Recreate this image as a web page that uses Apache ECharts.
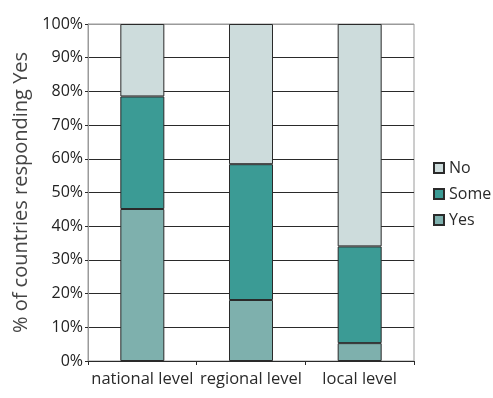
<!DOCTYPE html>
<html>
<head>
<meta charset="utf-8">
<script src="https://cdn.jsdelivr.net/npm/echarts@6/dist/echarts.min.js"></script>
<style>
  html, body { margin: 0; padding: 0; background: #fff; }
</style>
</head>
<body>
<div id="main" style="width: 493px; height: 398px;"></div>
<script>
  // data (percent of countries)
  const categories = ['national level', 'regional level', 'local level'];
  const yesValues = [45.1, 18.1, 5.3];
  const someValues = [33.4, 40.3, 28.7];
  const noValues = [21.5, 41.6, 66.0];
  const yTicks = [0, 10, 20, 30, 40, 50, 60, 70, 80, 90, 100];

  const FONT = 'Open Sans';
  let myChart = echarts.init(document.getElementById('main'));

  // grid lines dark, the top one (100%) grey like the frame
  const splitColors = yTicks.map((t, i) => i === yTicks.length - 1 ? '#9a9a9a' : '#2a2a2a');

  const barBase = {
    type: 'bar',
    stack: 'total',
    barWidth: 44,
    itemStyle: { borderColor: '#2a2a2a', borderWidth: 1 }
  };

  let option = {
    animation: false,
    textStyle: { fontFamily: FONT },
    grid: {
      left: 88, right: 79, top: 24, bottom: 37,
      show: true,
      borderColor: '#9a9a9a',
      borderWidth: 1
    },
    legend: {
      orient: 'vertical',
      left: 428,
      top: 155,
      itemWidth: 10,
      itemHeight: 10,
      itemGap: 10,
      icon: 'rect',
      data: ['No', 'Some', 'Yes'],
      textStyle: { fontFamily: FONT, fontSize: 16, color: '#2a2a2a' }
    },
    xAxis: {
      type: 'category',
      data: categories,
      axisLine: { lineStyle: { color: '#2a2a2a', width: 1 } },
      axisTick: { show: true, length: 4, interval: 0, lineStyle: { color: '#2a2a2a' } },
      axisLabel: { fontFamily: FONT, fontSize: 16.5, color: '#2a2a2a', margin: 10, interval: 0 }
    },
    yAxis: {
      type: 'value',
      min: 0,
      max: 100,
      interval: 10,
      name: '% of countries responding Yes',
      nameLocation: 'middle',
      nameRotate: 90,
      nameGap: 56,
      nameTextStyle: { fontFamily: FONT, fontSize: 20, color: '#444' },
      axisLine: { show: true, lineStyle: { color: '#9a9a9a' } },
      axisTick: { show: true, length: 3, lineStyle: { color: '#2a2a2a' } },
      axisLabel: { fontFamily: FONT, fontSize: 16, color: '#222', margin: 5, formatter: '{value}%' },
      splitLine: { show: true, lineStyle: { color: splitColors, width: 1 } }
    },
    series: [
      Object.assign({}, barBase, { name: 'Yes', data: yesValues, itemStyle: Object.assign({}, barBase.itemStyle, { color: '#7eb0ad' }) }),
      Object.assign({}, barBase, { name: 'Some', data: someValues, itemStyle: Object.assign({}, barBase.itemStyle, { color: '#3b9b95' }) }),
      Object.assign({}, barBase, { name: 'No', data: noValues, itemStyle: Object.assign({}, barBase.itemStyle, { color: '#cddcdc' }) })
    ]
  };
  myChart.setOption(option);
</script>
</body>
</html>
